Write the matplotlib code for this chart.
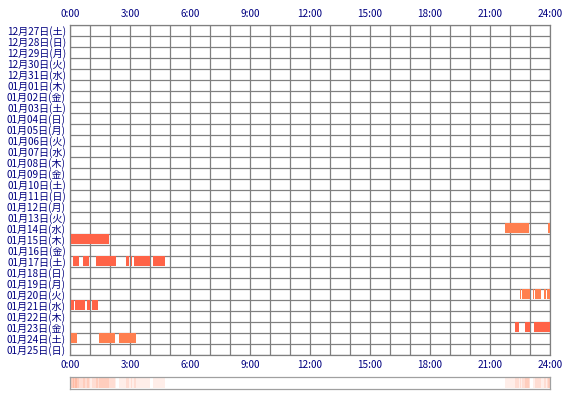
import numpy as np
import matplotlib
matplotlib.use("Agg")
import matplotlib.pyplot as plt
from matplotlib.colors import LinearSegmentedColormap

plt.rcParams['font.family'] = ['Noto Sans CJK JP', 'DejaVu Sans']

# ---- data ----
day_labels = [
    "12月27日(土)", "12月28日(日)", "12月29日(月)", "12月30日(火)", "12月31日(水)",
    "01月01日(木)", "01月02日(金)", "01月03日(土)", "01月04日(日)", "01月05日(月)",
    "01月06日(火)", "01月07日(水)", "01月08日(木)", "01月09日(金)", "01月10日(土)",
    "01月11日(日)", "01月12日(月)", "01月13日(火)", "01月14日(水)", "01月15日(木)",
    "01月16日(金)", "01月17日(土)", "01月18日(日)", "01月19日(月)", "01月20日(火)",
    "01月21日(水)", "01月22日(木)", "01月23日(金)", "01月24日(土)", "01月25日(日)",
]
hour_ticks = [0, 3, 6, 9, 12, 15, 18, 21, 24]
hour_labels = ["0:00", "3:00", "6:00", "9:00", "12:00", "15:00", "18:00", "21:00", "24:00"]

# activity segments: row index, start hour, end hour, colour class
seg_day = [18, 18,
           19,
           21, 21, 21, 21, 21, 21, 21,
           24, 24, 24, 24, 24, 24,
           25, 25, 25, 25,
           27, 27, 27,
           28, 28, 28]
seg_start = [21.75, 23.88,
             0.05,
             0.13, 0.65, 1.30, 2.80, 3.03, 3.20, 4.15,
             22.50, 22.62, 23.15, 23.27, 23.72, 23.85,
             0.05, 0.27, 0.83, 1.10,
             22.27, 22.75, 23.20,
             0.05, 1.45, 2.45]
seg_end = [22.97, 24.00,
           1.95,
           0.43, 0.95, 2.28, 2.93, 3.08, 4.00, 4.75,
           22.55, 23.00, 23.20, 23.55, 23.78, 24.00,
           0.20, 0.75, 1.00, 1.40,
           22.47, 23.00, 24.00,
           0.35, 2.25, 3.30]
seg_kind = [1, 1,
            0,
            0, 0, 0, 0, 0, 0, 0,
            1, 1, 1, 1, 1, 1,
            0, 0, 0, 0,
            0, 0, 0,
            1, 1, 1]
kind_colors = ["#FF6347", "#FF7F4F"]

# ---- figure ----
W, H = 570, 400
fig = plt.figure(figsize=(W / 100, H / 100), dpi=100)
left, right, top, bottom = 70, 550, 24.5, 354.5
ax = fig.add_axes([left / W, 1 - bottom / H, (right - left) / W, (bottom - top) / H])

n = len(day_labels)
ax.set_xlim(0, 24)
ax.set_ylim(n, 0)

ax.set_xticks(hour_ticks)
ax.set_xticklabels(hour_labels)
ax.set_xticks(np.arange(0, 25, 1), minor=True)
ax.set_yticks(np.arange(n) + 0.5)
ax.set_yticklabels(day_labels)
ax.set_yticks(np.arange(0, n + 1, 1), minor=True)

ax.tick_params(which='both', length=0)
ax.tick_params(axis='x', labeltop=True, labelbottom=True, labelsize=7.2,
               labelcolor='#000080', pad=4)
ax.tick_params(axis='y', labelsize=7.2, labelcolor='#000080', pad=3)
ax.xaxis.grid(True, which='both', color='#808080', linewidth=0.9)
ax.yaxis.grid(True, which='minor', color='#808080', linewidth=0.9)
ax.yaxis.grid(False, which='major')
ax.set_axisbelow(True)
for s in ax.spines.values():
    s.set_color('#808080')
    s.set_linewidth(0.9)

for d, s0, s1, k in zip(seg_day, seg_start, seg_end, seg_kind):
    ax.barh(d + 0.5, s1 - s0, left=s0, height=0.84, color=kind_colors[k],
            linewidth=0, zorder=3)

# ---- summary strip ----
sax = fig.add_axes([left / W, 1 - 388.5 / H, (right - left) / W, 11.5 / H])
minutes = np.arange(1440) / 60.0 + 1 / 120.0
counts = np.zeros(1440)
for s0, s1 in zip(seg_start, seg_end):
    counts += (minutes >= s0) & (minutes < s1)
cmap = LinearSegmentedColormap.from_list("strip", ["#FFFFFF", "#FFB49C"])
sax.imshow(counts[np.newaxis, :], aspect='auto', cmap=cmap, vmin=0, vmax=4.5,
           extent=[0, 24, 0, 1], interpolation='nearest')
sax.set_xlim(0, 24)
sax.set_xticks([])
sax.set_yticks([])
for s in sax.spines.values():
    s.set_color('#A0A0A0')
    s.set_linewidth(0.9)

fig.savefig("out.png", dpi=100)
